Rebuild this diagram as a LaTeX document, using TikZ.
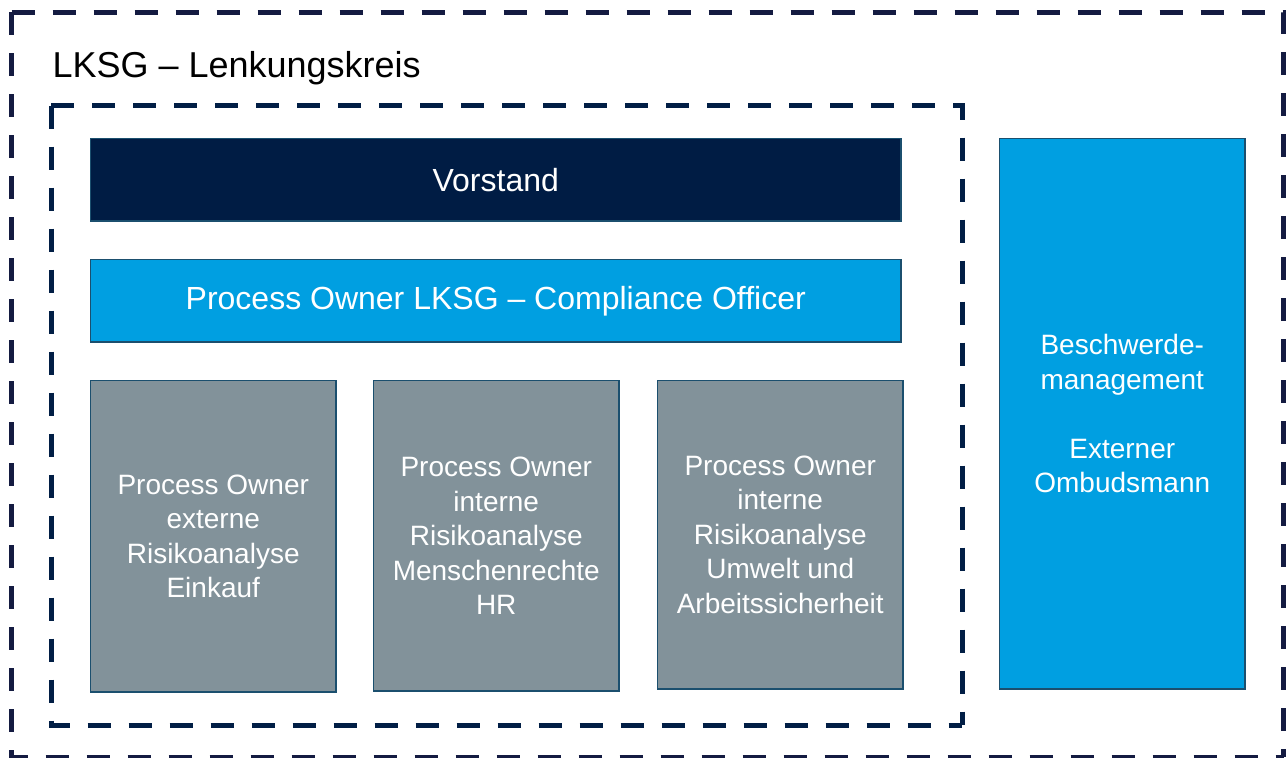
\documentclass[tikz,border=0pt]{standalone}
\usepackage{fontspec}
\setmainfont{Liberation Sans}
\definecolor{framenavy}{HTML}{141B41}
\definecolor{innernavy}{HTML}{011E45}
\definecolor{boardnavy}{HTML}{001C44}
\definecolor{ownerblue}{HTML}{009FE1}
\definecolor{unitgray}{HTML}{82929A}
\definecolor{edgeteal}{HTML}{1B4F6E}
\tikzset{
  frame/.style={line width=5pt, dash pattern=on 23pt off 18pt},
  box/.style={draw=edgeteal, line width=1.5pt, anchor=north west,
    inner sep=0pt, align=center, text=white},
  wide/.style={box, font=\fontsize{32}{38}\selectfont},
  tall/.style={box, font=\fontsize{28}{34.5}\selectfont},
}
\begin{document}
\begin{tikzpicture}[x=1pt,y=-1pt]
  \useasboundingbox (0,0) rectangle (1286,758);
  % outer steering-committee frame
  \draw[frame, framenavy] (11.5,12) -- (1283.5,12) -- (1283.5,757);
  \draw[frame, framenavy] (11.5,12) -- (11.5,757) -- (1283.5,757);
  % inner frame around the process owners
  \draw[frame, innernavy] (51,105.5) -- (962,105.5) -- (962,725);
  \draw[frame, innernavy] (51,105.5) -- (51,725) -- (962,725);

  \node[anchor=base west, font=\fontsize{36}{40}\selectfont] (title) at (49,77) {LKSG – Lenkungskreis};

  \node[wide, fill=boardnavy, minimum width=810.5pt, minimum height=82.5pt] (board) at (89.75,137.75) {Vorstand};
  \node[wide, fill=ownerblue, minimum width=810.5pt, minimum height=82.5pt] (officer) at (89.75,258.75) {\raisebox{-2pt}{Process Owner LKSG – Compliance Officer}};

  \node[tall, fill=unitgray, minimum width=245.5pt, minimum height=311.5pt] (buy) at (89.75,379.75)
    {Process Owner\\externe\\Risikoanalyse\\Einkauf};
  \node[tall, fill=unitgray, minimum width=245.5pt, minimum height=310.5pt] (hr) at (372.75,379.75)
    {Process Owner\\interne\\Risikoanalyse\\Menschenrechte\\HR};
  \node[tall, fill=unitgray, minimum width=245.5pt, minimum height=308.5pt] (env) at (656.75,379.75)
    {Process Owner\\interne\\Risikoanalyse\\Umwelt und\\Arbeitssicherheit};

  \node[tall, fill=ownerblue, minimum width=245.5pt, minimum height=550.5pt] (complaints) at (998.75,137.75)
    {Beschwerde-\\management\\[34.5pt]Externer\\Ombudsmann};
\end{tikzpicture}
\end{document}
